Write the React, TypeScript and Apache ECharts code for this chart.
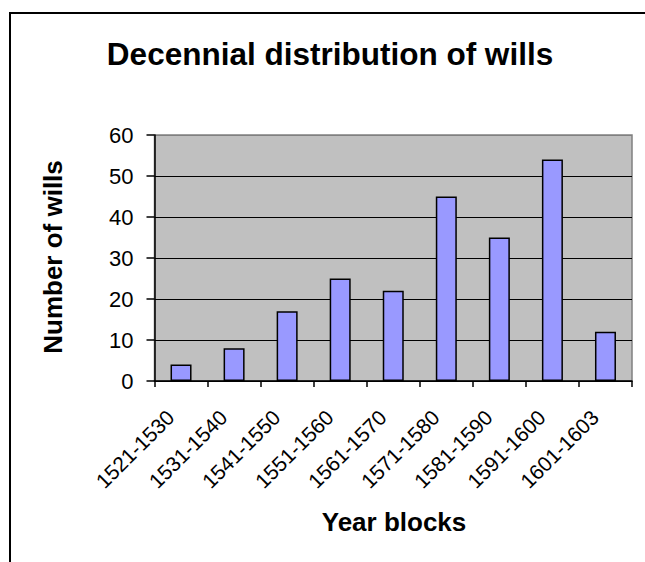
import React, { useEffect, useRef } from "react";
import * as echarts from "echarts";

const categories = [
  "1521-1530",
  "1531-1540",
  "1541-1550",
  "1551-1560",
  "1561-1570",
  "1571-1580",
  "1581-1590",
  "1591-1600",
  "1601-1603",
];
const wills = [4, 8, 17, 25, 22, 45, 35, 54, 12];
const yTicks = { min: 0, max: 60, interval: 10 };
const titleText = "Decennial distribution of wills";
const xName = "Year blocks";
const yName = "Number of wills";

const FONT = "'Liberation Sans', Arial, sans-serif";

export default function App() {
  const ref = useRef<HTMLDivElement>(null);
  useEffect(() => {
    document.body.style.margin = "0";
    document.body.style.overflow = "hidden";
    document.documentElement.style.overflow = "hidden";
    if (!ref.current) return;
    const chart = echarts.init(ref.current, null, { renderer: "svg" });
    chart.setOption({
      animation: false,
      backgroundColor: "#ffffff",
      grid: {
        left: 154.5,
        top: 135,
        right: 13,
        bottom: 181,
        containLabel: false,
        show: true,
        backgroundColor: "#c0c0c0",
        borderColor: "#808080",
        borderWidth: 1.5,
      },
      graphic: [
        {
          type: "line",
          shape: { x1: 10, y1: 12, x2: 10, y2: 562 },
          style: { stroke: "#000", lineWidth: 2 },
          silent: true,
          z: 100,
        },
        {
          type: "line",
          shape: { x1: 9, y1: 13, x2: 645, y2: 13 },
          style: { stroke: "#000", lineWidth: 2 },
          silent: true,
          z: 100,
        },
        {
          type: "text",
          x: 330,
          y: 54,
          style: {
            text: titleText,
            font: `bold 31.5px ${FONT}`,
            fill: "#000",
            textAlign: "center",
            textVerticalAlign: "middle",
          },
        },
        {
          type: "text",
          x: 53,
          y: 257,
          rotation: Math.PI / 2,
          style: {
            text: yName,
            font: `bold 26px ${FONT}`,
            fill: "#000",
            textAlign: "center",
            textVerticalAlign: "middle",
          },
        },
        {
          type: "text",
          x: 394,
          y: 522,
          style: {
            text: xName,
            font: `bold 26px ${FONT}`,
            fill: "#000",
            textAlign: "center",
            textVerticalAlign: "middle",
          },
        },
      ],
      xAxis: {
        type: "category",
        data: categories,
        boundaryGap: true,
        axisLine: { show: true, lineStyle: { color: "#000", width: 1.5 } },
        axisTick: { show: true, length: 6, inside: false, lineStyle: { color: "#000", width: 1.5 } },
        axisLabel: {
          interval: 0,
          rotate: 45,
          margin: 22,
          padding: [0, 15, 0, 0],
          color: "#000",
          fontSize: 21,
          fontFamily: FONT,
        },
        splitLine: { show: false },
      },
      yAxis: {
        type: "value",
        min: yTicks.min,
        max: yTicks.max,
        interval: yTicks.interval,
        axisLine: { show: true, lineStyle: { color: "#000", width: 1.5 } },
        axisTick: { show: true, length: 8, inside: false, lineStyle: { color: "#000", width: 1.5 } },
        axisLabel: {
          margin: 21,
          color: "#000",
          fontSize: 22,
          fontFamily: FONT,
        },
        splitLine: {
          show: true,
          lineStyle: {
            color: ["#000", "#000", "#000", "#000", "#000", "#000", "#808080"],
            width: 1,
          },
        },
      },
      series: [
        {
          type: "bar",
          data: wills,
          barWidth: 21,
          itemStyle: {
            color: "#9999ff",
            borderColor: "#000",
            borderWidth: 1.5,
          },
        },
      ],
    });
    return () => chart.dispose();
  }, []);
  return (
    <div style={{ width: 645, height: 562, overflow: "hidden", position: "relative" }}>
      <div ref={ref} style={{ width: 645, height: 562 }} />
    </div>
  );
}
